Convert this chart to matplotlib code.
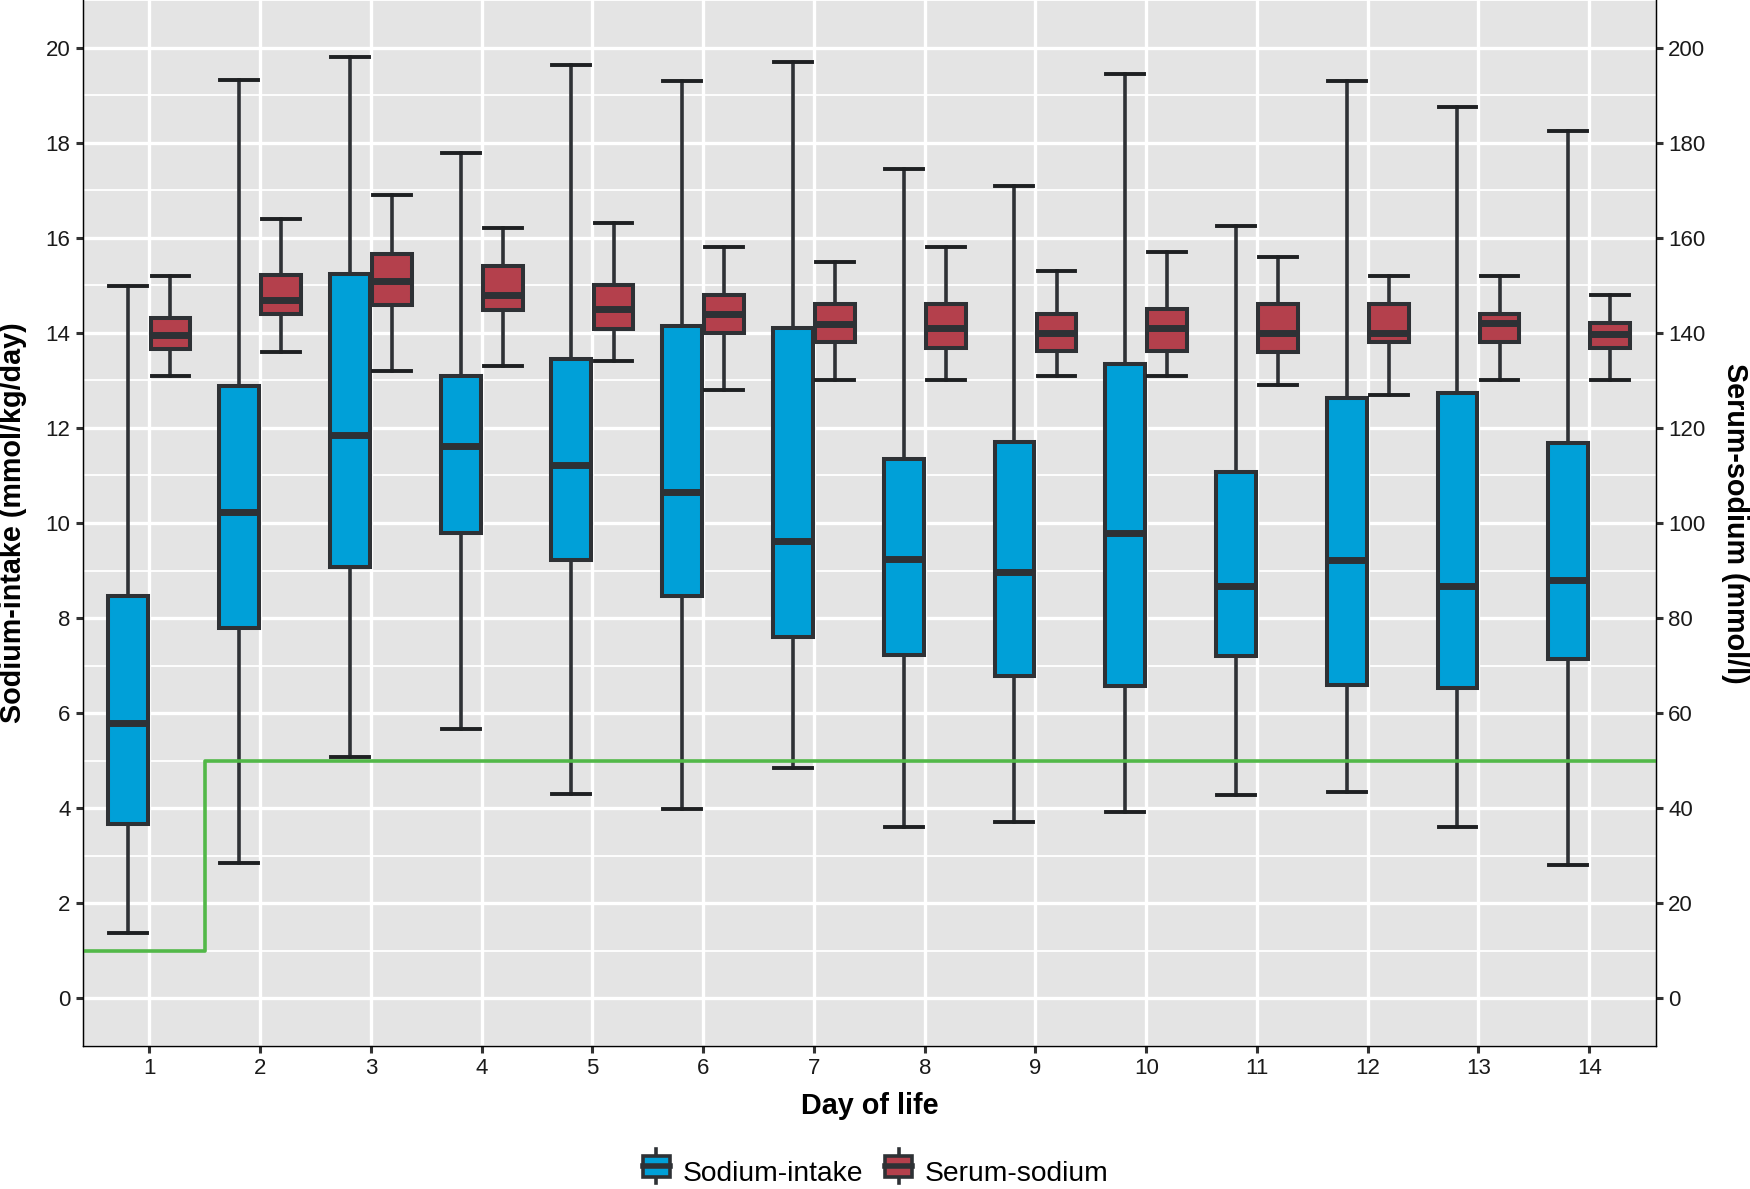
import numpy as np
import matplotlib
matplotlib.use("Agg")
import matplotlib.pyplot as plt
from matplotlib.patches import Rectangle, Patch
from matplotlib.lines import Line2D
from matplotlib.legend_handler import HandlerBase

plt.rcParams['font.family'] = ['Liberation Sans', 'DejaVu Sans']

days = list(range(1, 15))

# sodium intake (mmol/kg/day): lower whisker, q1, median, q3, upper whisker
intake_lo  = [1.37, 2.85, 5.07, 5.66, 4.31, 3.99, 4.85, 3.61, 3.71, 3.92, 4.27, 4.34, 3.61, 2.80]
intake_q1  = [3.66, 7.80, 9.08, 9.78, 9.23, 8.46, 7.61, 7.22, 6.78, 6.57, 7.20, 6.59, 6.54, 7.13]
intake_med = [5.80, 10.23, 11.85, 11.61, 11.22, 10.66, 9.63, 9.25, 8.97, 9.79, 8.68, 9.23, 8.68, 8.80]
intake_q3  = [8.46, 12.89, 15.24, 13.09, 13.45, 14.15, 14.10, 11.35, 11.71, 13.34, 11.07, 12.62, 12.73, 11.68]
intake_hi  = [14.98, 19.31, 19.80, 17.78, 19.64, 19.29, 19.70, 17.45, 17.08, 19.45, 16.24, 19.30, 18.74, 18.24]

# serum sodium (mmol/l)
serum_lo  = [131, 136, 132, 133, 134, 128, 130, 130, 131, 131, 129, 127, 130, 130]
serum_q1  = [136.7, 144, 145.9, 144.9, 140.9, 140, 138, 136.8, 136.2, 136.2, 136, 138, 138, 136.8]
serum_med = [139.6, 147, 151, 148, 145, 144, 141.9, 141, 140, 141, 140, 139.9, 142.1, 139.7]
serum_q3  = [143.2, 152.1, 156.5, 154, 150, 148, 146, 146, 144, 145, 146, 146, 144, 142]
serum_hi  = [152, 164, 169, 162, 163, 158, 155, 158, 153, 157, 156, 152, 152, 148]

# recommended intake (step line)
target_intake = [1, 5, 5, 5, 5, 5, 5, 5, 5, 5, 5, 5, 5, 5]

BLUE = "#00a0d8"
RED = "#b4404c"
EDGE = "#2e3135"
GREEN = "#52b848"
BG = "#e4e4e4"

def stats(lo, q1, med, q3, hi):
    return [dict(whislo=a, q1=b, med=c, q3=d, whishi=e, fliers=[])
            for a, b, c, d, e in zip(lo, q1, med, q3, hi)]

fig = plt.figure(figsize=(17.5, 11.89), dpi=100)
ax = fig.add_axes([83/1750, 1 - 1046/1189, (1655.7 - 83)/1750, 1046/1189])
ax.set_facecolor(BG)
xlim = (0.4, 14.6)
ax.set_xlim(*xlim)
ax.set_ylim(-1, 21)

# grid
for y in np.arange(-1, 22, 2):
    ax.axhline(y, color="white", lw=1.3, zorder=0.5)
for y in np.arange(0, 21, 2):
    ax.axhline(y, color="white", lw=2.4, zorder=0.6)
for d in days:
    ax.axvline(d, color="white", lw=2.4, zorder=0.6)

off, bw = 0.19, 0.36
box_kw = dict(widths=bw, capwidths=bw * 0.95, showfliers=False, patch_artist=True,
              manage_ticks=False,
              boxprops=dict(edgecolor=EDGE, linewidth=2.9),
              whiskerprops=dict(color=EDGE, linewidth=2.6),
              capprops=dict(color="#1e2022", linewidth=2.8),
              medianprops=dict(color=EDGE, linewidth=5.0, solid_capstyle="butt"))

b1 = ax.bxp(stats(intake_lo, intake_q1, intake_med, intake_q3, intake_hi),
            positions=[d - off for d in days], zorder=2, **box_kw)
for p in b1["boxes"]:
    p.set_facecolor(BLUE)

# step line across panel
xs = np.r_[xlim[0], days, xlim[1]]
ys = np.r_[target_intake[0], target_intake, target_intake[-1]]
ax.step(xs, ys, where="mid", color=GREEN, lw=2.6, zorder=3)

ax2 = ax.twinx()
ax2.set_ylim(-10, 210)
ax2.set_xlim(*xlim)
b2 = ax2.bxp(stats(serum_lo, serum_q1, serum_med, serum_q3, serum_hi),
             positions=[d + off for d in days], zorder=2, **box_kw)
for p in b2["boxes"]:
    p.set_facecolor(RED)

ax.set_xticks(days)
ax.set_xticklabels([str(d) for d in days])
ax.set_yticks(np.arange(0, 21, 2))
ax2.set_yticks(np.arange(0, 201, 20))

for a in (ax, ax2):
    a.tick_params(labelsize=16, length=5, width=2.2, color="#333333", pad=4, labelcolor="#1a1a1a")
    a.spines["top"].set_visible(False)
    for s in ("left", "right", "bottom"):
        a.spines[s].set_linewidth(0.9)
        a.spines[s].set_color("black")

ax.set_xlabel("Day of life", fontsize=20.7, fontweight="bold", va="center")
ax.xaxis.set_label_coords(0.5, (1046 - 1106) / 1046)
ax.set_ylabel("Sodium-intake (mmol/kg/day)", fontsize=20.7, fontweight="bold", va="center")
ax.yaxis.set_label_coords((13 - 83) / 1572.7, 0.5)
ax2.set_ylabel("Serum-sodium (mmol/l)", fontsize=20.7, fontweight="bold", rotation=270, va="center")
ax2.yaxis.set_label_coords((1735 - 83) / 1572.7, 0.5)


class BoxKey(HandlerBase):
    def create_artists(self, legend, orig, xd, yd, w, h, fontsize, trans):
        fc = orig.get_facecolor()
        cx = xd + w / 2
        vline = Line2D([cx, cx], [yd - 0.2 * h, yd + 1.2 * h], color=EDGE, lw=2.6, transform=trans)
        rect = Rectangle((xd + 0.04 * w, yd + 0.08 * h), 0.92 * w, 0.84 * h,
                         facecolor=fc, edgecolor=EDGE, lw=2.6, transform=trans)
        med = Line2D([xd + 0.04 * w, xd + 0.96 * w], [yd + h / 2, yd + h / 2],
                     color=EDGE, lw=4.0, transform=trans)
        return [vline, rect, med]


h1 = Patch(facecolor=BLUE)
h2 = Patch(facecolor=RED)
fig.legend([h1, h2], ["Sodium-intake", "Serum-sodium"], loc="center",
           bbox_to_anchor=(0.5, 1 - 1173 / 1189), ncol=2, frameon=False,
           fontsize=20.3, handler_map={h1: BoxKey(), h2: BoxKey()},
           handlelength=1.05, handleheight=0.95, handletextpad=0.4,
           columnspacing=0.75, borderpad=0)

fig.savefig("out.png", dpi=100)
